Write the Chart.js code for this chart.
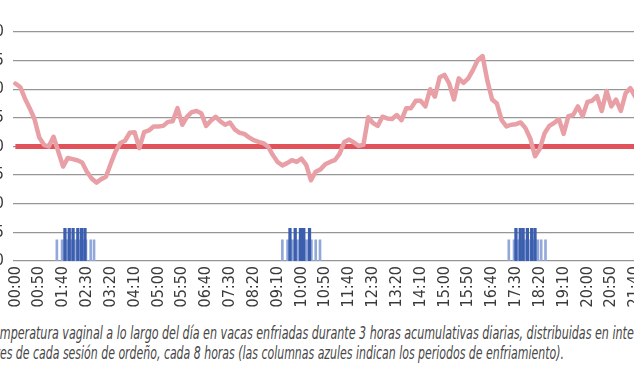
<!DOCTYPE html>
<html><head><meta charset="utf-8">
<script src="https://cdn.jsdelivr.net/npm/chart.js@4.4.1/dist/chart.umd.min.js"></script>
<style>
html,body{margin:0;padding:0;background:#fff;}
body{width:634px;height:383px;overflow:hidden;position:relative;}
#wrap{position:absolute;left:0;top:0;}
.cap{position:absolute;white-space:nowrap;font-family:'Liberation Sans Narrow','DejaVu Sans Condensed','Open Sans',sans-serif;font-style:italic;font-size:17px;color:#474747;line-height:20px;transform-origin:0 0;}
</style></head><body>
<div id="wrap"><canvas id="c" width="760" height="320"></canvas></div>
<div class="cap" id="l1"></div><div class="cap" id="l2"></div>
<script>
// x categories: every 10 minutes
const timeLabels = [
"00:00","00:10","00:20","00:30","00:40","00:50","01:00","01:10","01:20","01:30","01:40","01:50",
"02:00","02:10","02:20","02:30","02:40","02:50","03:00","03:10","03:20","03:30","03:40","03:50",
"04:00","04:10","04:20","04:30","04:40","04:50","05:00","05:10","05:20","05:30","05:40","05:50",
"06:00","06:10","06:20","06:30","06:40","06:50","07:00","07:10","07:20","07:30","07:40","07:50",
"08:00","08:10","08:20","08:30","08:40","08:50","09:00","09:10","09:20","09:30","09:40","09:50",
"10:00","10:10","10:20","10:30","10:40","10:50","11:00","11:10","11:20","11:30","11:40","11:50",
"12:00","12:10","12:20","12:30","12:40","12:50","13:00","13:10","13:20","13:30","13:40","13:50",
"14:00","14:10","14:20","14:30","14:40","14:50","15:00","15:10","15:20","15:30","15:40","15:50",
"16:00","16:10","16:20","16:30","16:40","16:50","17:00","17:10","17:20","17:30","17:40","17:50",
"18:00","18:10","18:20","18:30","18:40","18:50","19:00","19:10","19:20","19:30","19:40","19:50",
"20:00","20:10","20:20","20:30","20:40","20:50","21:00","21:10","21:20","21:30","21:40","21:50",
"22:00","22:10","22:20","22:30","22:40","22:50","23:00","23:10","23:20","23:30","23:40","23:50"];

// x tick labels (every 50 min)
const xTickLabels = ["00:00","00:50","01:40","02:30","03:20","04:10","05:00","05:50","06:40","07:30",
"08:20","09:10","10:00","10:50","11:40","12:30","13:20","14:10","15:00","15:50","16:40","17:30",
"18:20","19:10","20:00","20:50","21:40","22:30","23:20"];

// vaginal temperature (°C), one value per 10-min category (visible part of the day)
const temperature = [
40.10,40.04,39.84,39.67,39.48,39.16,39.03,39.00,39.17,38.91,38.65,38.80,
38.78,38.76,38.72,38.56,38.44,38.37,38.43,38.47,38.70,38.91,39.06,39.10,
39.24,39.25,38.97,39.25,39.28,39.35,39.35,39.36,39.43,39.44,39.67,39.38,
39.52,39.60,39.62,39.58,39.36,39.45,39.52,39.44,39.38,39.42,39.30,39.24,
39.22,39.16,39.11,39.08,39.06,39.00,38.85,38.73,38.67,38.71,38.76,38.73,
38.79,38.68,38.41,38.56,38.60,38.69,38.73,38.76,38.87,39.08,39.12,39.07,
39.01,39.03,39.51,39.41,39.36,39.52,39.49,39.48,39.55,39.46,39.67,39.67,
39.80,39.80,39.70,40.00,39.87,40.21,40.25,40.10,39.82,40.19,40.11,40.19,
40.34,40.51,40.58,40.15,39.82,39.75,39.46,39.35,39.38,39.39,39.42,39.32,
39.14,38.83,38.96,39.23,39.36,39.41,39.48,39.22,39.53,39.55,39.70,39.53,
39.78,39.80,39.88,39.62,39.97,39.70,39.82,39.62,39.93,40.02,39.87,39.80];

// reference threshold (°C)
const thresholdValue = 39.0;

// y-axis tick values
const yTickValues = [37.0,37.5,38.0,38.5,39.0,39.5,40.0,40.5,41.0];

// cooling periods (blue columns): clock times in HH:MM
const coolingLightTimes = [
"01:27","01:38","01:43","01:48","01:53","01:58","02:03","02:08","02:13","02:18","02:23","02:28","02:38","02:45",
"09:20","09:31","09:36","09:41","09:46","09:51","09:56","10:01","10:06","10:11","10:16","10:21","10:30","10:39",
"17:15","17:26","17:31","17:36","17:41","17:46","17:51","17:56","18:01","18:06","18:11","18:16","18:23","18:32"];
const coolingLightLevel = 37.37;
const coolingDarkTimes = [
"01:44","01:53","02:01","02:11","02:19","02:26",
"09:36","09:47","09:58","10:02","10:05","10:17",
"17:30","17:39","17:45","17:54","18:03","18:10"];
const coolingDarkLevel = 37.57;

const FONT = "'Liberation Sans Narrow','DejaVu Sans Condensed','Open Sans',sans-serif";
const toMin = t => parseInt(t.slice(0,2),10)*60 + parseInt(t.slice(3),10);
const tempPoints = temperature.map((v,i) => ({x: toMin(timeLabels[i]), y: v}));
const thresholdPoints = timeLabels.map(t => ({x: toMin(t), y: thresholdValue}));
const firstMin = toMin(timeLabels[0]), lastMin = toMin(timeLabels[timeLabels.length-1]);

const TARGET = {left:13, top:31.7, width:687, height:229};

function makeChart(w, h){
  const cv = document.getElementById('c');
  cv.width = w; cv.height = h;
  cv.style.width = w + 'px'; cv.style.height = h + 'px';
  return new Chart(cv.getContext('2d'), {
    type: 'line',
    data: {
      datasets: [
        {type:'line', data: tempPoints, borderColor:'#e8a0a6', borderWidth:4.5, pointRadius:0,
         tension:0, borderJoinStyle:'round', borderCapStyle:'round'},
        {type:'line', data: thresholdPoints, borderColor:'#e1525a', borderWidth:5, pointRadius:0},
        {type:'bar', data: coolingDarkTimes.map(t => ({x: toMin(t), y: coolingDarkLevel})),
         backgroundColor:'#3b5eae', barThickness:2.6, grouped:false},
        {type:'bar', data: coolingLightTimes.map(t => ({x: toMin(t), y: coolingLightLevel})),
         backgroundColor:'#93a8da', barThickness:2, grouped:false}
      ]
    },
    options: {
      responsive:false, animation:false, events:[],
      plugins:{legend:{display:false}, tooltip:{enabled:false}},
      layout:{padding:{top:32,left:0,right:0,bottom:0}},
      scales:{
        x:{type:'linear', offset:false, min:firstMin - 5, max:lastMin + 5,
           afterBuildTicks:s => { s.ticks = xTickLabels.map(t => ({value: toMin(t)})); },
           grid:{display:false, drawTicks:false, offset:false}, border:{display:false},
           ticks:{autoSkip:false, maxRotation:90, minRotation:90, padding:5, color:'#3a3a3a',
                  font:{family:FONT, size:16},
                  callback:v => { const k = xTickLabels.find(t => toMin(t) === v); return k || ''; }},
           afterFit:s => { s.height = 50; }},
        y:{type:'linear', min:37, max:41,
           afterBuildTicks:s => { s.ticks = yTickValues.map(v => ({value:v})); },
           grid:{color:'#969696', lineWidth:1.3, drawTicks:false}, border:{display:false},
           ticks:{padding:9, color:'#3a3a3a', font:{family:FONT, size:16},
                  callback:v => Number(v).toFixed(1).replace('.', ',')},
           afterFit:s => { s.width = 40; }}
      }
    }
  });
}

let w = 760, h = 320;
let chart = makeChart(w, h);
let ca = chart.chartArea;
w = Math.round(w + (TARGET.width - (ca.right - ca.left)));
h = Math.round(h + (TARGET.height - (ca.bottom - ca.top)));
chart.destroy();
chart = makeChart(w, h);
ca = chart.chartArea;
const wrap = document.getElementById('wrap');
wrap.style.left = (TARGET.left - ca.left) + 'px';
wrap.style.top = (TARGET.top - ca.top) + 'px';

// caption (cropped on the left side as in the reference), condensed horizontally
function measure(txt){
  const m = document.createElement('span');
  m.className = 'cap'; m.style.visibility = 'hidden'; m.textContent = txt;
  document.body.appendChild(m);
  const wd = m.getBoundingClientRect().width;
  m.remove();
  return wd;
}
function placeCaption(id, hidden, text, fitPart, fitWidth, top){
  const el = document.getElementById(id);
  const squeeze = fitWidth / measure(fitPart);
  const pw = measure(hidden) * squeeze;
  el.textContent = hidden + text;
  el.style.transform = 'scaleX(' + squeeze + ')';
  el.style.left = (-pw) + 'px';
  el.style.top = top + 'px';
}
const cap1Visible = 'mperatura vaginal a lo largo del día en vacas enfriadas durante 3 horas acumulativas diarias, distribuidas en intervalos';
const cap2Visible = 'es de cada sesión de ordeño, cada 8 horas (las columnas azules indican los periodos de enfriamiento).';
placeCaption('l1', 'Figura 2. Te', cap1Visible,
  'mperatura vaginal a lo largo del día en vacas enfriadas durante 3 horas acumulativas diarias, distribuidas en inte', 634, 323);
placeCaption('l2', 'ant', cap2Visible, cap2Visible, 564, 343);
</script>
</body></html>
